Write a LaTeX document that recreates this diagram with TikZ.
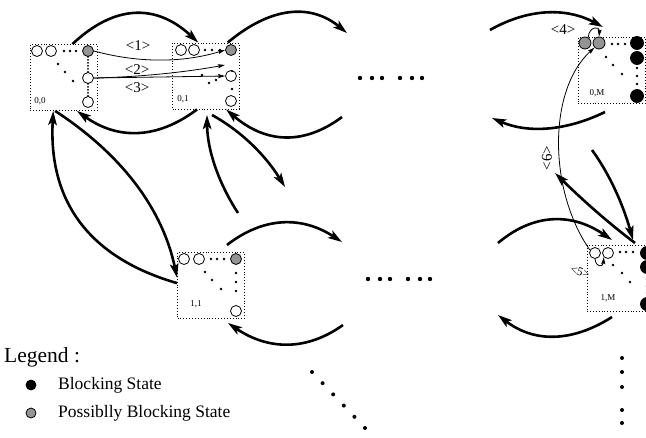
\documentclass[tikz,border=0pt]{standalone}
\usepackage{fontspec}
\setmainfont{Liberation Serif}
\usetikzlibrary{arrows.meta}

\tikzset{
  thk/.style={line width=2.6pt, -{Stealth[length=14pt,width=8.5pt,inset=3pt]}},
  thn/.style={line width=0.8pt, -{Stealth[length=7pt,width=4pt,inset=1pt]}},
  statebox/.style={draw, dotted, line width=0.9pt, minimum width=67pt, minimum height=66pt, inner sep=0pt},
  wst/.style={circle, draw, fill=white, line width=0.8pt, minimum size=11pt, inner sep=0pt},
  gst/.style={wst, fill=black!42},
  bst/.style={circle, draw, fill=black, line width=0.8pt, minimum size=13pt, inner sep=0pt},
  lbl/.style={font=\fontsize{15}{15}\selectfont, inner sep=0pt},
  boxlbl/.style={font=\fontsize{9}{9}\selectfont, inner sep=0pt},
  leglbl/.style={anchor=west, font=\fontsize{17.5}{17.5}\selectfont, inner sep=0pt},
  densedot/.style={line width=2pt, line cap=round, dash pattern=on 0pt off 3pt},
}

\begin{document}
\begin{tikzpicture}[x=1pt,y=-1pt]
\clip (0,0) rectangle (646,437);

% ---- state boxes ----
\node[statebox] (b00) at (63.5,77.5) {};
\node[statebox] (b01) at (206,76) {};
\node[statebox] (b0M) at (611.5,70.5) {};
\node[statebox] (b11) at (211,285.5) {};
\node[statebox] (b1M) at (620.5,278) {};

\node[boxlbl] (t00) at (40,101) {0,0};
\node[boxlbl] (t01) at (183,99) {0,1};
\node[boxlbl] (t0M) at (597,93) {0,M};
\node[boxlbl] (t11) at (196,304) {1,1};
\node[boxlbl] (t1M) at (608,298) {1,M};

% ---- box 0,0 ----
\foreach \p in {(64,51),(70,51),(76,51),(58,64),(65,72),(73,81)} \fill \p circle (1.4pt);
\node[wst] (c00a) at (37,51) {};
\node[wst] (c00b) at (51,51) {};
\node[gst] (c00c) at (88,51) {};
\node[wst] (c00d) at (88,78) {};
\node[wst] (c00e) at (88,102) {};
\draw[densedot] (c00c.south) -- (c00d.north);
\draw[densedot] (c00d.south) -- (c00e.north);

% ---- box 0,1 ----
\foreach \p in {(205,50),(212,50),(220,50),(202,75),(209,83),(216,80),(232,89)} \fill \p circle (1.4pt);
\node[wst] (c01a) at (181,50) {};
\node[wst] (c01b) at (194,50) {};
\node[gst] (c01c) at (231,50) {};
\node[wst] (c01d) at (231,76) {};
\node[wst] (c01e) at (231,101) {};
\fill (232,71) circle (1.2pt);

% ---- box 0,M ----
\foreach \p in {(612,44),(618,44),(625,44),(606,57),(613,65),(622,74),(637,68),(637,76),(637,84)} \fill \p circle (1.4pt);
\node[gst, minimum size=12pt] (c0Ma) at (585,43) {};
\node[gst, minimum size=12pt] (c0Mb) at (599,43) {};
\node[bst] (c0Mc) at (637,43) {};
\node[bst] (c0Md) at (637,58) {};
\node[bst] (c0Me) at (637,96) {};

% ---- box 1,1 ----
\foreach \p in {(211,259),(217,259),(224,259),(205,272),(212,280),(221,289),(236,273),(236,282),(236,291)} \fill \p circle (1.4pt);
\node[wst] (c11a) at (184,259) {};
\node[wst] (c11b) at (199,259) {};
\node[gst] (c11c) at (236,259) {};
\node[wst] (c11d) at (236,311) {};

% ---- box 1,M ----
\foreach \p in {(620,252),(626,252),(633,252),(613,265),(622,273),(630,282),(647,279),(647,286),(647,293)} \fill \p circle (1.4pt);
\node[wst] (c1Ma) at (595,253) {};
\node[wst] (c1Mb) at (608,253) {};
\node[bst] (c1Mc) at (647,253) {};
\node[bst] (c1Md) at (647,267) {};
\node[bst] (c1Me) at (647,304) {};

% ---- ellipsis rows ----
\foreach \x in {360,372,382,400,412,422} \fill (\x,78) circle (2.2pt);
\foreach \x in {368,380,390,408,420,430} \fill (\x,279) circle (2.2pt);
\foreach \i in {0,...,5} \fill (312+10.6*\i,372+11.2*\i) circle (2pt);
\foreach \y in {358,372,387,410,423} \fill (622,\y) circle (2pt);

% ---- free ends of the level transitions ----
\coordinate (a3e) at (347,33);
\coordinate (a4s) at (342,117);
\coordinate (a5s) at (490,30);
\coordinate (a5e) at (603,27);
\coordinate (a6s) at (605,112);
\coordinate (a6e) at (492,118);
\coordinate (a7s) at (227,245);
\coordinate (a7e) at (342,242);
\coordinate (a8s) at (343,325);
\coordinate (a8e) at (228,323);
\coordinate (a9s) at (498,243);
\coordinate (a9e) at (612,240);
\coordinate (a10s) at (612,317);
\coordinate (a10e) at (498,315);
\coordinate (v3s) at (238,213);
\coordinate (v3e) at (207,115);
\coordinate (v4s) at (212,115);
\coordinate (v4e) at (285,187);
\coordinate (v5s) at (592,150);
\coordinate (v5e) at (633,240);
\coordinate (v6s) at (635,243);
\coordinate (v6e) at (555,173);
\coordinate (p2) at (225,65);

% ---- thick transitions ----
\draw[thk] (b00.75) .. controls (114.3,4.7) and (155.7,3) .. (b01.103);
\draw[thk] (b01.255) .. controls (156.7,139.7) and (117.3,139.7) .. (b00.292);
\draw[thk] (b01.57) .. controls (271,6.3) and (310.7,3.3) .. (a3e);
\draw[thk] (a4s) .. controls (304,145.3) and (266,143.7) .. (b01.301);
\draw[thk] (a5s) .. controls (528.3,8.3) and (566,7.3) .. (a5e);
\draw[thk] (a6s) .. controls (565.3,131.3) and (527.7,133.3) .. (a6e);
\draw[thk] (a7s) .. controls (263.3,216.7) and (301.7,215.7) .. (a7e);
\draw[thk] (a8s) .. controls (306.7,351) and (268.3,350.3) .. (a8e);
\draw[thk] (a9s) .. controls (533.3,213.3) and (571.3,212.3) .. (a9e);
\draw[thk] (a10s) .. controls (571.3,343) and (533.3,342.3) .. (a10e);

\draw[thk] (b11.176) .. controls (89.3,257.7) and (48.3,201.7) .. (b00.253);
\draw[thk] (b00.256) .. controls (123.7,155.7) and (163,210.7) .. (b11.167);
\draw[thk] (v3s) .. controls (217.7,181.7) and (207.3,149) .. (v3e);
\draw[thk] (v4s) .. controls (241,131) and (265.3,155) .. (v4e);
\draw[thk] (v5s) .. controls (609,173.3) and (622.7,203.3) .. (v5e);
\draw[thk] (v6s) .. controls (611,225) and (584.3,201.7) .. (v6e);

% ---- thin transitions ----
\draw[thn] (c00c.east) .. controls (138.2,63) and (182.2,63) .. (c01c.west);
\draw[thn] (c00d.east) .. controls (138.3,77) and (182.2,72.7) .. (p2);
\draw[thn] (c00d.east) -- (c01d.west);
\draw[thn] (c0Ma.60) .. controls (589,26) and (600,26) .. (c0Mb.north);
\draw[thn] (c1Ma.south) .. controls (596,268) and (603,267) .. (c1Mb.south west);
\draw[thn] (c1Ma.150) .. controls (548,190) and (548,90) .. (c0Mb.south west);

\node[lbl] (l1) at (138,46) {<1>};
\node[lbl] (l2) at (137,70) {<2>};
\node[lbl] (l3) at (137,88) {<3>};
\node[lbl] (l4) at (563,30) {<4>};
\node[lbl, font=\fontsize{12}{12}\selectfont, rotate=-20] (l5) at (580,272) {<5>};
\node[lbl, rotate=90] (l6) at (547,158) {<6>};

% ---- legend ----
\node[anchor=west, font=\fontsize{21.5}{21.5}\selectfont, inner sep=0pt] (leg) at (4,357) {Legend :};
\node[bst, minimum size=10pt] (lgb) at (31,385) {};
\node[leglbl] (lgbt) at (58,385) {Blocking State};
\node[gst, minimum size=10pt] (lgg) at (31,413) {};
\node[leglbl] (lggt) at (58,413) {Possiblly Blocking State};
\end{tikzpicture}
\end{document}
